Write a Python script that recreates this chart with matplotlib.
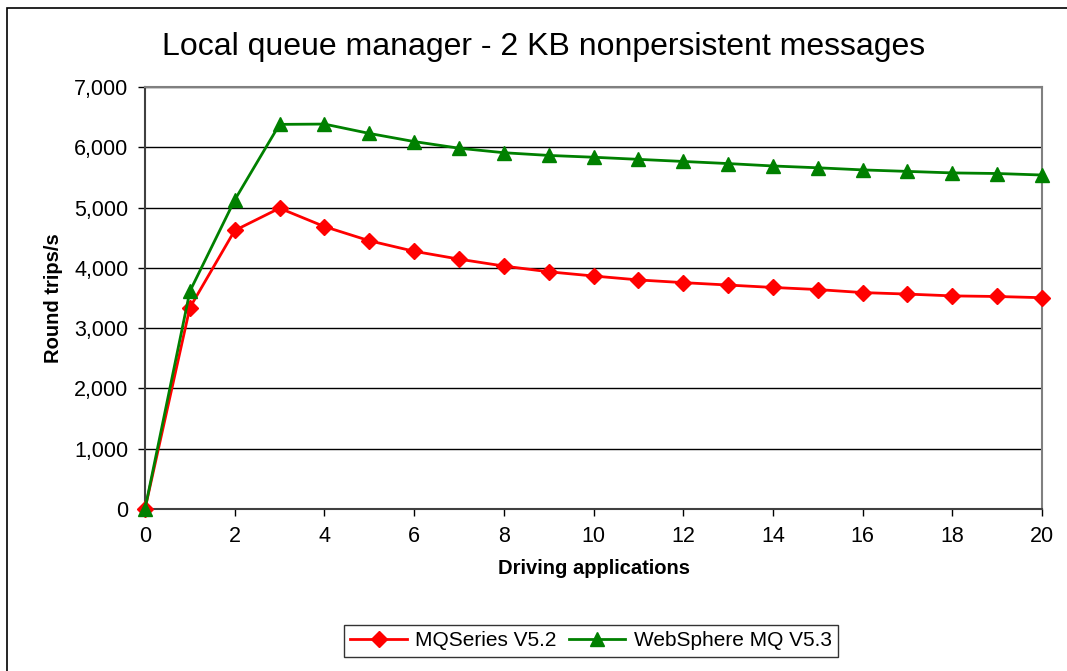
import matplotlib.pyplot as plt
from matplotlib.patches import Rectangle
from matplotlib.ticker import FuncFormatter

plt.rcParams['font.family'] = ['Liberation Sans', 'DejaVu Sans']

# Data
apps = list(range(21))
mqseries_52 = [0, 3340, 4620, 4990, 4685, 4450, 4275, 4145, 4030, 3935,
               3865, 3800, 3755, 3715, 3675, 3640, 3590, 3565, 3535, 3525, 3505]
websphere_53 = [0, 3610, 5125, 6380, 6385, 6230, 6095, 5985, 5910, 5865,
                5835, 5800, 5765, 5730, 5690, 5660, 5625, 5600, 5575, 5565, 5540]
series_names = ['MQSeries V5.2', 'WebSphere MQ V5.3']

W, H = 1067, 671
fig = plt.figure(figsize=(W / 100, H / 100), dpi=100)

# outer chart border (runs off the right and bottom edges)
fig.patches.append(Rectangle((7 / W, -0.01), 1.02, 1 - 7 / H + 0.008,
                             transform=fig.transFigure, fill=False,
                             edgecolor='black', linewidth=1.2))

left, right, top, bottom = 145, 1042, 87, 509
ax = fig.add_axes([left / W, 1 - bottom / H, (right - left) / W, (bottom - top) / H])

ax.plot(apps, mqseries_52, color='red', marker='D', markersize=8, linewidth=2,
        label=series_names[0], clip_on=False, zorder=3)
ax.plot(apps, websphere_53, color='green', marker='^', markersize=10, linewidth=2,
        label=series_names[1], clip_on=False, zorder=4)

ax.set_xlim(0, 20)
ax.set_ylim(0, 7000)
ax.set_xticks(range(0, 21, 2))
ax.set_yticks(range(0, 7001, 1000))
ax.yaxis.set_major_formatter(FuncFormatter(lambda v, p: f'{int(v):,}'))
ax.grid(axis='y', color='black', linewidth=1)
ax.set_axisbelow(True)

for side in ['top', 'right']:
    ax.spines[side].set_color('#808080')
    ax.spines[side].set_linewidth(1.5)
for side in ['left', 'bottom']:
    ax.spines[side].set_color('#404040')
    ax.spines[side].set_linewidth(1.5)

ax.tick_params(axis='both', direction='out', length=5, width=1, labelsize=15.5,
               colors='black')
ax.tick_params(axis='x', pad=7)
ax.tick_params(axis='y', pad=7)

ax.set_xlabel('Driving applications', fontsize=14.5, fontweight='bold', labelpad=9)
ax.set_ylabel('Round trips/s', fontsize=14.5, fontweight='bold', labelpad=8)

fig.text(544 / W, 1 - 47 / H, 'Local queue manager - 2 KB nonpersistent messages',
         fontsize=23, ha='center', va='center')

leg = fig.legend(loc='center', bbox_to_anchor=(591 / W, 1 - 641 / H), ncol=2,
                 fontsize=15, frameon=True, fancybox=False, edgecolor='black',
                 handlelength=2.7, columnspacing=0.6, handletextpad=0.4,
                 borderpad=0.3)
leg.get_frame().set_linewidth(1)

fig.savefig('out.png', dpi=100)
